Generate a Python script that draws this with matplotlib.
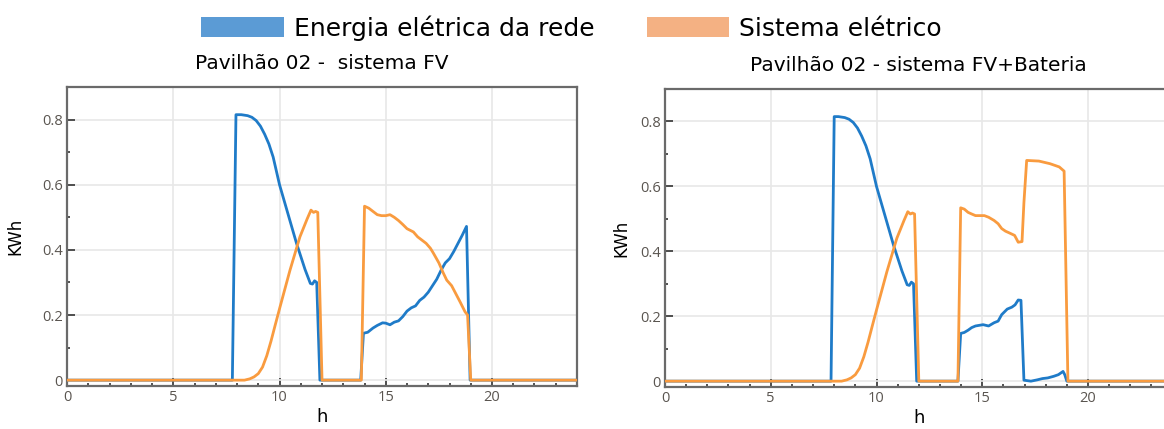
import matplotlib.pyplot as plt
from matplotlib.patches import Patch
from matplotlib.ticker import MultipleLocator

# horas e consumo (kWh) - Pavilhão 02, sistema FV
h_rede_fv = [0, 7.78, 7.95, 8.2, 8.5, 8.7, 8.9, 9.1, 9.3, 9.5, 9.7, 10.0, 10.2, 10.4,
             10.6, 10.8, 11.0, 11.2, 11.45, 11.55, 11.65, 11.75, 11.9, 13.82, 13.95,
             14.15, 14.4, 14.6, 14.85, 15.0, 15.2, 15.4, 15.6, 15.8, 16.0, 16.2, 16.4,
             16.6, 16.8, 17.0, 17.2, 17.4, 17.6, 17.8, 18.0, 18.2, 18.4, 18.6, 18.8,
             18.97, 24]
rede_fv = [0, 0, 0.815, 0.815, 0.812, 0.807, 0.797, 0.78, 0.755, 0.725, 0.685, 0.60, 0.555,
           0.51, 0.465, 0.42, 0.38, 0.34, 0.297, 0.295, 0.305, 0.30, 0, 0, 0.144,
           0.147, 0.16, 0.168, 0.176, 0.175, 0.17, 0.178, 0.182, 0.195, 0.212, 0.222,
           0.228, 0.245, 0.255, 0.27, 0.29, 0.31, 0.337, 0.36, 0.373, 0.395, 0.42,
           0.445, 0.472, 0, 0]

h_sist_fv = [0, 8.35, 8.6, 8.8, 9.0, 9.2, 9.4, 9.6, 9.8, 10.02, 10.49, 10.96, 11.3, 11.48,
             11.6, 11.7, 11.8, 12.0, 13.85, 14.0, 14.2, 14.4, 14.6, 14.8, 15.0, 15.2,
             15.4, 15.6, 15.8, 16.0, 16.3, 16.5, 16.7, 16.9, 17.1, 17.24, 17.5, 17.7,
             17.87, 18.1, 18.3, 18.5, 18.73, 18.85, 19.0, 24]
sist_fv = [0, 0, 0.004, 0.01, 0.02, 0.04, 0.075, 0.12, 0.17, 0.224, 0.337, 0.44, 0.495,
           0.522, 0.515, 0.518, 0.515, 0, 0, 0.534, 0.528, 0.518, 0.508, 0.505, 0.505,
           0.508, 0.50, 0.49, 0.478, 0.465, 0.455, 0.44, 0.43, 0.42, 0.405, 0.39, 0.36,
           0.33, 0.307, 0.29, 0.265, 0.24, 0.21, 0.2, 0, 0]

# Pavilhão 02, sistema FV+Bateria
h_rede_bat = [0, 7.85, 8.0, 8.2, 8.5, 8.7, 8.9, 9.1, 9.3, 9.5, 9.7, 10.0, 10.2, 10.4,
              10.6, 10.8, 11.0, 11.2, 11.45, 11.55, 11.65, 11.75, 11.9, 13.85, 13.98,
              14.15, 14.33, 14.5, 14.68, 15.04, 15.3, 15.56, 15.75, 15.92, 16.18,
              16.4, 16.55, 16.7, 16.83, 16.97, 17.3, 17.6, 17.85, 18.1, 18.38, 18.6,
              18.82, 18.9, 19.0, 24]
rede_bat = [0, 0, 0.815, 0.815, 0.812, 0.807, 0.797, 0.78, 0.755, 0.725, 0.685, 0.60,
            0.555, 0.51, 0.465, 0.42, 0.38, 0.34, 0.297, 0.295, 0.305, 0.30, 0, 0,
            0.147, 0.15, 0.157, 0.165, 0.17, 0.174, 0.17, 0.18, 0.185, 0.205, 0.222,
            0.228, 0.235, 0.25, 0.249, 0.003, 0.0, 0.004, 0.008, 0.01, 0.015, 0.02,
            0.03, 0.02, 0, 0]

h_sist_bat = [0, 8.35, 8.6, 8.8, 9.0, 9.2, 9.4, 9.6, 9.8, 10.02, 10.49, 10.96, 11.3, 11.48,
              11.6, 11.7, 11.8, 12.0, 13.85, 13.98, 14.15, 14.33, 14.5, 14.68, 15.1,
              15.3, 15.56, 15.75, 15.92, 16.1, 16.27, 16.53, 16.7, 16.88, 16.97, 17.1,
              17.68, 18.2, 18.64, 18.87, 19.05, 24]
sist_bat = [0, 0, 0.004, 0.01, 0.02, 0.04, 0.075, 0.12, 0.17, 0.224, 0.337, 0.44, 0.495,
            0.522, 0.515, 0.518, 0.515, 0, 0, 0.534, 0.53, 0.52, 0.515, 0.51, 0.51,
            0.505, 0.495, 0.485, 0.47, 0.462, 0.457, 0.449, 0.428, 0.43, 0.55, 0.68,
            0.678, 0.67, 0.66, 0.647, 0, 0]

titulos = ['Pavilhão 02 -  sistema FV', 'Pavilhão 02 - sistema FV+Bateria']
cor_rede = '#1f7bc8'
cor_sist = '#f99b3f'

plt.rcParams['font.family'] = ['DejaVu Sans']

fig = plt.figure(figsize=(11.64, 4.29), dpi=100)
ax1 = fig.add_axes([0.0576, 0.1002, 0.4381, 0.697])
ax2 = fig.add_axes([0.5713, 0.0979, 0.4361, 0.6946])

dados = [(h_rede_fv, rede_fv, h_sist_fv, sist_fv), (h_rede_bat, rede_bat, h_sist_bat, sist_bat)]
for ax, (hr, r, hs, s), tit, lp in zip([ax1, ax2], dados, titulos, [13, 7]):
    ax.plot(hr, r, color=cor_rede, lw=2.0, zorder=3)
    ax.plot(hs, s, color=cor_sist, lw=2.0, zorder=3)
    ax.set_xlim(0, 24)
    ax.set_ylim(-0.018, 0.9)
    ax.set_xticks([0, 5, 10, 15, 20])
    ax.set_yticks([0, 0.2, 0.4, 0.6, 0.8])
    ax.set_yticklabels(['0', '0.2', '0.4', '0.6', '0.8'])
    ax.xaxis.set_minor_locator(MultipleLocator(1))
    ax.yaxis.set_minor_locator(MultipleLocator(0.1))
    ax.tick_params(which='major', direction='in', length=6, width=1.2, color='#333333',
                   labelsize=10.5, labelcolor='#5a5550', pad=3)
    ax.tick_params(which='minor', direction='in', length=2, width=1.2, color='#333333')
    ax.grid(True, which='major', color='#e8e8e8', lw=1.2, zorder=0)
    for sp in ax.spines.values():
        sp.set_color('#6a6a6a')
        sp.set_linewidth(1.6)
    for lab in ax.get_xticklabels() + ax.get_yticklabels():
        lab.set_family('Open Sans')
    ax.set_xlabel('h', fontsize=13, labelpad=2)
    ax.set_ylabel('KWh', fontsize=12, labelpad=lp)
    ax.set_title(tit, fontsize=14.5, pad=13)

handles = [Patch(facecolor='#5b9bd5', label='Energia elétrica da rede'),
           Patch(facecolor='#f4b183', label='Sistema elétrico')]
fig.legend(handles=handles, ncol=2, loc='center', bbox_to_anchor=(0.491, 0.935),
           frameon=False, fontsize=18, handlelength=3.3, handleheight=0.85,
           handletextpad=0.4, columnspacing=2.1)

fig.savefig('out.png', dpi=100)
